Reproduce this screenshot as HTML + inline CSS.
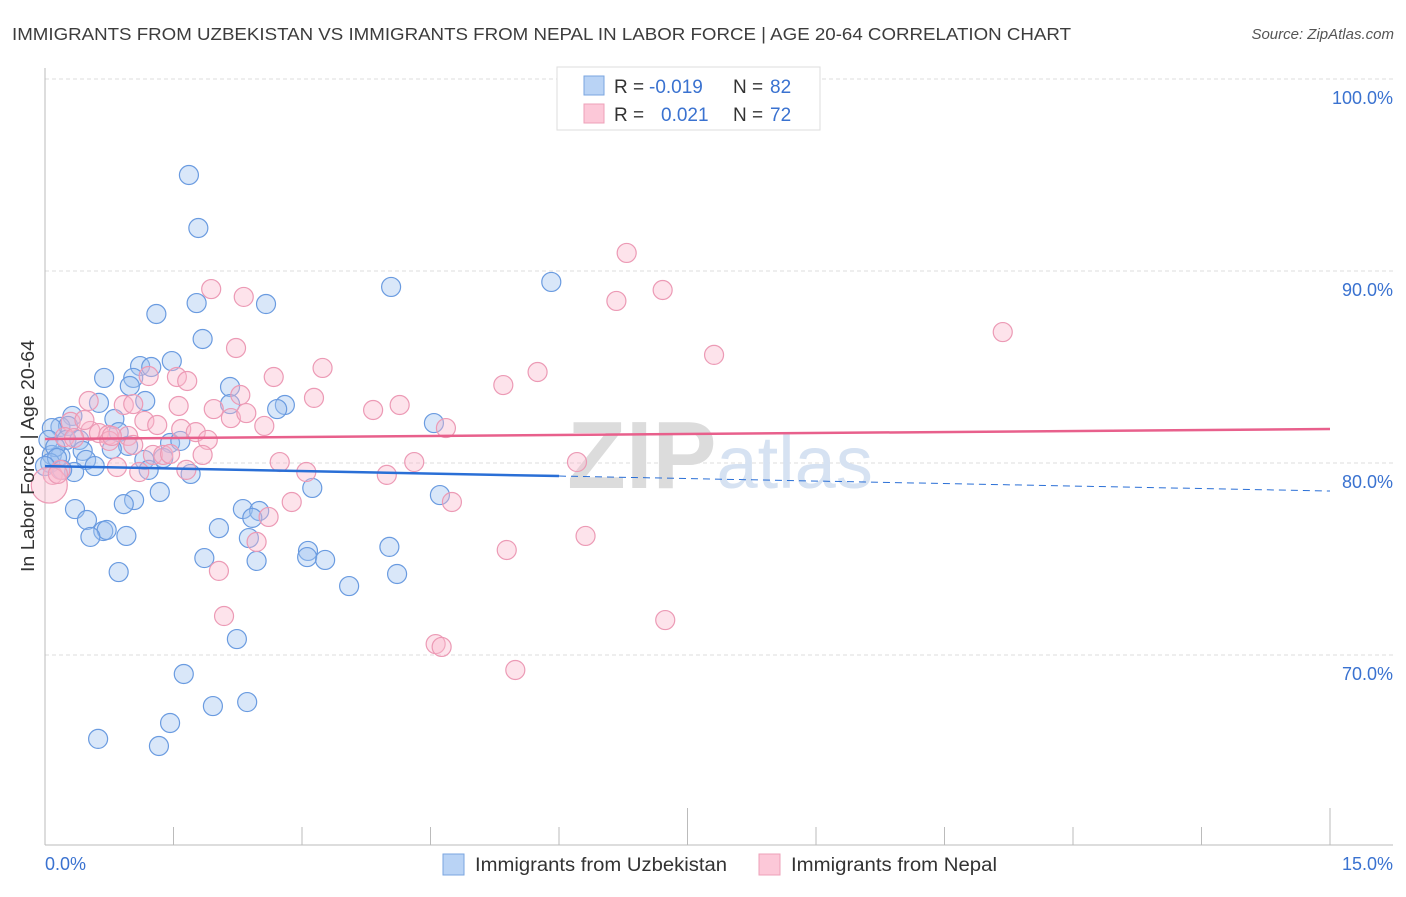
<!DOCTYPE html>
<html><head><meta charset="utf-8">
<style>
body{margin:0;background:#fff;font-family:"Liberation Sans",sans-serif;}
svg text{font-family:"Liberation Sans",sans-serif;}
</style></head>
<body>
<svg id="chart" width="1406" height="892" xmlns="http://www.w3.org/2000/svg">
<text x="12" y="40" font-size="17.5" fill="#3c3c3c" textLength="1059" lengthAdjust="spacingAndGlyphs">IMMIGRANTS FROM UZBEKISTAN VS IMMIGRANTS FROM NEPAL IN LABOR FORCE | AGE 20-64 CORRELATION CHART</text>
<text x="1394" y="39" font-size="15" fill="#555" font-style="italic" text-anchor="end">Source: ZipAtlas.com</text>
<g id="grid"></g>
<text x="720" y="488" font-size="96" fill="#e4e4e4" text-anchor="middle" font-family="Liberation Serif"><tspan font-weight="bold" fill="#dcdcdc">ZIP</tspan><tspan font-family="Liberation Sans" fill="#d6e2f2" font-size="74">atlas</tspan></text>
<g id="pts"></g>
<g id="lines"></g>
<text transform="translate(34,456) rotate(-90)" font-size="18" fill="#333" text-anchor="middle" textLength="232" lengthAdjust="spacingAndGlyphs">In Labor Force | Age 20-64</text>
<g>
<rect x="557" y="67" width="263" height="63" fill="#fff" stroke="#ddd"/>
<rect x="584" y="76" width="20" height="19" fill="#b9d3f5" stroke="#7aa6e0"/>
<rect x="584" y="104" width="20" height="19" fill="#fcc8d8" stroke="#eea0b8"/>
<text x="614" y="93" font-size="19" fill="#333">R =</text>
<text x="649" y="93" font-size="19" fill="#3a72d0">-0.019</text>
<text x="733" y="93" font-size="19" fill="#333">N =</text>
<text x="770" y="93" font-size="19" fill="#3a72d0">82</text>
<text x="614" y="121" font-size="19" fill="#333">R =</text>
<text x="661" y="121" font-size="19" fill="#3a72d0">0.021</text>
<text x="733" y="121" font-size="19" fill="#333">N =</text>
<text x="770" y="121" font-size="19" fill="#3a72d0">72</text>
</g>
<g>
<rect x="443" y="854" width="21" height="21" fill="#b9d3f5" stroke="#7aa6e0"/>
<text x="475" y="871" font-size="19" fill="#333" textLength="252" lengthAdjust="spacingAndGlyphs">Immigrants from Uzbekistan</text>
<rect x="759" y="854" width="21" height="21" fill="#fcc8d8" stroke="#eea0b8"/>
<text x="791" y="871" font-size="19" fill="#333" textLength="206" lengthAdjust="spacingAndGlyphs">Immigrants from Nepal</text>
</g>
</svg>
<script>
const xTicks=[0,1.5,3,4.5,6,7.5,9,10.5,12,13.5,15];
const yTicks=[100,90,80,70];
const yTickLabels=["100.0%","90.0%","80.0%","70.0%"];
const blueX=[1.68,1.79,1.77,2.58,1.30,1.84,4.04,5.91,1.48,1.11,1.24,0.69,1.03,0.99,2.16,1.17,0.63,2.80,2.71,2.16,4.54,0.32,0.81,0.18,0.27,0.08,0.86,0.04,0.25,0.40,1.46,1.58,0.97,0.78,0.44,0.08,0.18,0.48,0.58,1.16,1.38,1.21,0.34,1.70,3.12,1.34,4.61,1.04,0.92,2.31,2.50,2.42,0.35,0.49,2.03,0.68,0.72,0.53,0.95,2.38,3.07,1.86,2.47,3.06,3.27,4.02,0.86,3.55,4.11,2.24,1.62,1.96,2.36,1.46,0.62,1.33,0.12,0.06,0.14,0.0,0.2];
const blueY=[95.0,92.24,88.33,88.28,87.76,86.46,89.17,89.43,85.31,85.05,85.0,84.43,84.43,84.01,83.96,83.23,83.13,83.02,82.81,83.07,82.08,82.45,82.29,81.88,81.93,81.82,81.61,81.2,81.2,81.2,81.04,81.15,80.89,80.73,80.63,80.42,80.36,80.16,79.84,80.16,80.26,79.64,79.53,79.43,78.7,78.49,78.33,78.07,77.86,77.6,77.5,77.14,77.6,77.03,76.61,76.46,76.51,76.15,76.2,76.09,75.42,75.05,74.9,75.1,74.95,75.63,74.32,73.59,74.22,70.83,69.01,67.34,67.55,66.46,65.63,65.26,80.83,80.0,80.26,79.84,79.64];
const pinkX=[6.79,1.94,2.32,7.21,6.67,11.18,2.23,7.81,3.24,5.35,5.75,1.54,1.21,1.66,2.67,2.28,3.14,0.51,0.92,1.03,1.56,1.97,3.83,4.14,2.17,2.35,2.56,1.16,0.30,1.31,1.59,0.53,1.76,4.68,1.90,0.63,0.74,0.97,0.75,0.23,0.34,1.26,1.38,1.84,2.74,3.05,4.31,6.21,3.99,1.10,0.84,0.09,0.18,2.88,4.75,2.61,6.31,2.47,5.39,2.03,2.09,4.56,4.63,7.24,5.49,0.05,0.15,0.78,0.46,1.03,1.46,1.65];
const pinkY=[90.94,89.06,88.65,89.01,88.44,86.82,85.99,85.63,84.95,84.06,84.74,84.48,84.53,84.27,84.48,83.54,83.39,83.23,83.02,83.07,82.97,82.81,82.76,83.02,82.34,82.6,81.93,82.19,82.14,81.98,81.77,81.67,81.61,81.82,81.2,81.56,81.46,81.41,81.15,81.35,81.3,80.42,80.42,80.42,80.05,79.53,80.05,80.05,79.38,79.53,79.79,79.38,79.64,77.97,77.97,77.19,76.2,75.89,75.47,74.38,72.03,70.57,70.42,71.82,69.22,78.85,79.43,81.41,82.24,80.94,80.47,79.64];
const blueTrend=[79.84,78.54];
const pinkTrend=[81.25,81.77];
const blueSolidEnd=6.0;

const NS="http://www.w3.org/2000/svg";
const X0=45,X1=1330,Y100=79,PXPER=19.2,BOTTOM=845;
function xs(v){return X0+(v/15)*(X1-X0);}
function ys(v){return Y100+(100-v)*PXPER;}
function mk(tag,attrs,parent){const e=document.createElementNS(NS,tag);for(const k in attrs)e.setAttribute(k,attrs[k]);parent.appendChild(e);return e;}
const grid=document.getElementById('grid');
yTicks.forEach((t,i)=>{
  const l=mk('line',{x1:X0,x2:1393,y1:ys(t),y2:ys(t),stroke:'#ddd','stroke-dasharray':'4,3'},grid);
  
  
  const tx=mk('text',{x:1393,y:ys(t)+25,'font-size':'18',fill:'#3a72d0','text-anchor':'end'},grid);
  tx.textContent=yTickLabels[i];
  
  
});
const ax=mk('line',{x1:X0,x2:X0,y1:68,y2:BOTTOM,stroke:'#bbb'},grid);


const bx=mk('line',{x1:X0,x2:1393,y1:BOTTOM,y2:BOTTOM,stroke:'#bbb'},grid);


xTicks.forEach((t,i)=>{
  const long=(i===5||i===10);
  const tk=mk('line',{x1:xs(t),x2:xs(t),y1:long?808:827,y2:BOTTOM,stroke:'#bbb'},grid);
  
  
});
const xl0=mk('text',{x:45,y:870,'font-size':'18',fill:'#3a72d0'},grid);xl0.textContent='0.0%';


const xl1=mk('text',{x:1393,y:870,'font-size':'18',fill:'#3a72d0','text-anchor':'end'},grid);xl1.textContent='15.0%';



const pts=document.getElementById('pts');
blueX.forEach((v,i)=>{
  const c=mk('circle',{cx:xs(v),cy:ys(blueY[i]),r:9.5,fill:'rgba(160,196,240,0.4)',stroke:'#6a9be0','stroke-width':1.2},pts);
  
  
});
pinkX.forEach((v,i)=>{
  const big=(i===65);
  const c=mk('circle',{cx:xs(v),cy:ys(pinkY[i]),r:big?18:9.5,fill:'rgba(250,185,205,0.4)',stroke:'#ec9ab5','stroke-width':1.2},pts);
  
  
});
const lines=document.getElementById('lines');
function trendAt(tr,x){return tr[0]+(tr[1]-tr[0])*x/15;}
const b1=mk('line',{x1:xs(0),y1:ys(trendAt(blueTrend,0)),x2:xs(blueSolidEnd),y2:ys(trendAt(blueTrend,blueSolidEnd)),stroke:'#2a6fd6','stroke-width':2.5},lines);


const b2=mk('line',{x1:xs(blueSolidEnd),y1:ys(trendAt(blueTrend,blueSolidEnd)),x2:xs(15),y2:ys(trendAt(blueTrend,15)),stroke:'#2a6fd6','stroke-width':1,'stroke-dasharray':'7,5'},lines);


const p1=mk('line',{x1:xs(0),y1:ys(trendAt(pinkTrend,0)),x2:xs(15),y2:ys(trendAt(pinkTrend,15)),stroke:'#e8608c','stroke-width':2.5},lines);


</script>
</body></html>
